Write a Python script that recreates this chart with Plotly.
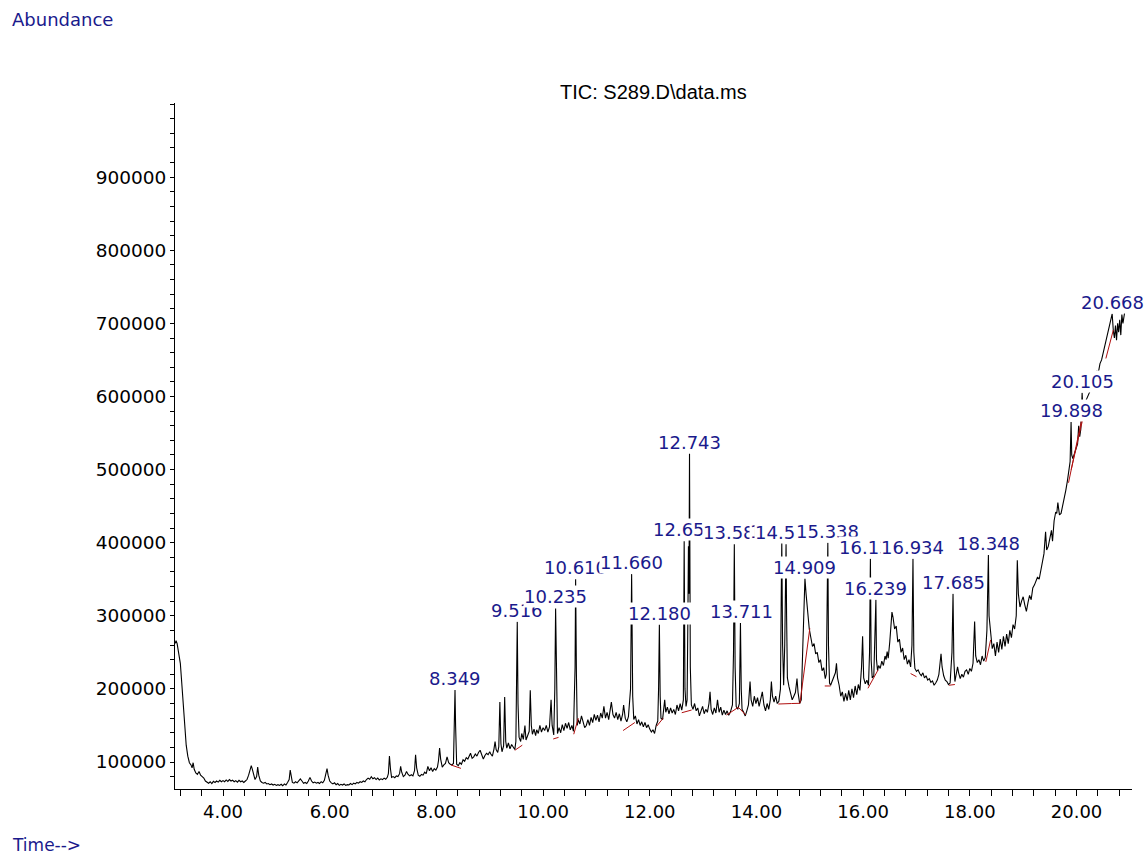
import plotly.graph_objects as go

# ---------------- data ----------------
t_seg1 = [3.10, 3.12, 3.14, 3.17, 3.20, 3.22, 3.25, 3.28, 3.31, 3.34, 3.37, 3.40, 3.42, 3.44, 3.46, 3.49,
          3.52, 3.55, 3.58, 3.61, 3.64, 3.67, 3.70, 3.73, 3.76, 3.79, 3.82, 3.85, 3.88, 3.91, 3.94, 3.97,
          4.00, 4.03, 4.06, 4.09, 4.12, 4.15, 4.18, 4.21, 4.24, 4.27, 4.30, 4.33, 4.36, 4.39, 4.42, 4.45,
          4.48, 4.51, 4.53, 4.55, 4.58, 4.60, 4.63, 4.65, 4.67, 4.70, 4.73, 4.76, 4.79, 4.82, 4.85, 4.88,
          4.91, 4.94, 4.97, 5.00, 5.03, 5.06, 5.09, 5.12, 5.15, 5.18, 5.21, 5.24, 5.26, 5.28, 5.30, 5.33,
          5.36, 5.39, 5.42, 5.45, 5.48, 5.51, 5.54, 5.57, 5.60, 5.63, 5.66, 5.69, 5.72, 5.75, 5.78, 5.81,
          5.84, 5.87, 5.90, 5.93, 5.95, 5.97]
a_seg1 = [262000, 266000, 262000, 250000, 235000, 215000, 180000, 150000, 123000, 108000, 99000, 96000,
          92000, 99000, 90000, 85000, 83000, 87000, 82000, 80000, 78000, 74000, 72000, 71000, 73000, 70500,
          73500, 72000, 74000, 72500, 75000, 73000, 74500, 73000, 75500, 73500, 76000, 74000, 75000, 73000,
          74500, 72500, 75000, 73000, 74000, 72000, 74000, 76000, 82000, 92000, 95000, 90000, 80000, 76000,
          80000, 93000, 82000, 74000, 72000, 71000, 72000, 70000, 70500, 69000, 70000, 68500, 69500, 68000,
          69000, 68000, 69500, 67500, 70000, 68500, 72000, 76000, 89000, 80000, 72000, 71000, 73000, 71500,
          74000, 77000, 74000, 71000, 72000, 70500, 74000, 79000, 74000, 71500, 72500, 71000, 72000, 70500,
          73000, 71500, 75000, 84000, 91000, 82000]

t_seg2 = [6.00, 6.03, 6.06, 6.09, 6.12, 6.15, 6.18, 6.21, 6.24, 6.27, 6.30, 6.33, 6.36, 6.39, 6.42, 6.45,
          6.48, 6.51, 6.54, 6.57, 6.60, 6.63, 6.66, 6.69, 6.72, 6.75, 6.78, 6.81, 6.84, 6.87, 6.90, 6.93,
          6.96, 6.99, 7.02, 7.05, 7.08, 7.10, 7.12, 7.14, 7.16, 7.19, 7.22, 7.25, 7.28, 7.31, 7.33, 7.35,
          7.38, 7.41, 7.44, 7.47, 7.50, 7.53, 7.56, 7.59, 7.61, 7.63, 7.66, 7.69, 7.72, 7.75, 7.78, 7.81,
          7.84, 7.87, 7.90, 7.93, 7.96, 7.99, 8.02, 8.04, 8.06, 8.08, 8.11, 8.14, 8.17, 8.20, 8.23, 8.26,
          8.29, 8.32, 8.34, 8.349, 8.36, 8.38, 8.41, 8.44, 8.47, 8.50, 8.53, 8.56, 8.59, 8.62, 8.64, 8.67,
          8.70, 8.73, 8.76, 8.79, 8.82, 8.85, 8.88, 8.91, 8.94, 8.97]
a_seg2 = [74000, 71500, 70000, 71500, 69000, 70500, 68000, 69500, 68500, 70000, 68000, 69000, 68500, 70500,
          69000, 71000, 70000, 72000, 71000, 73000, 72000, 74000, 73000, 76000, 78000, 76500, 80000, 77000,
          78500, 76000, 78000, 75500, 77000, 76000, 78000, 76500, 79000, 84000, 108000, 90000, 79000, 80000,
          78500, 81000, 80000, 84000, 94000, 86000, 80000, 82000, 87000, 83000, 81000, 82500, 81000, 88000,
          110000, 92000, 82000, 80500, 83000, 82000, 86000, 84000, 94000, 88000, 92000, 87000, 91000, 89000,
          93000, 102000, 119000, 104000, 93000, 96000, 98000, 107000, 99000, 97000, 96000, 98000, 160000,
          198500, 150000, 97000, 95000, 99000, 97000, 103000, 101000, 106000, 104000, 109000, 112000, 105000,
          107000, 111000, 108000, 113000, 116000, 110000, 104000, 109000, 112000, 110000]

t_seg3 = [9.00, 9.02, 9.05, 9.08, 9.10, 9.12, 9.15, 9.17, 9.19, 9.21, 9.23, 9.26, 9.28, 9.30, 9.32, 9.35,
          9.38, 9.41, 9.44, 9.47, 9.49, 9.50, 9.516, 9.53, 9.55, 9.58, 9.60, 9.63, 9.66, 9.68, 9.71, 9.74,
          9.76, 9.78, 9.80, 9.83, 9.86, 9.88, 9.91, 9.94, 9.97, 10.00, 10.03, 10.06, 10.09, 10.12, 10.15,
          10.17, 10.20, 10.22, 10.235, 10.25, 10.27, 10.30, 10.33, 10.36, 10.39, 10.42, 10.45, 10.48, 10.51,
          10.54, 10.57, 10.60, 10.61, 10.625, 10.64, 10.66, 10.69, 10.72, 10.75, 10.78, 10.81, 10.84, 10.87,
          10.90, 10.93, 10.96, 10.99, 11.02, 11.05, 11.08, 11.11, 11.14, 11.17, 11.20, 11.23, 11.26, 11.28,
          11.31, 11.34, 11.37, 11.40, 11.43, 11.46, 11.49, 11.51, 11.54, 11.57, 11.60, 11.64, 11.66, 11.68,
          11.70, 11.73, 11.76, 11.79, 11.82, 11.85, 11.88, 11.91, 11.94, 11.97]
a_seg3 = [114000, 111000, 108000, 118000, 128000, 117000, 113000, 121000, 182000, 125000, 114000, 122000,
          189000, 128000, 119000, 126000, 118000, 124000, 120000, 117000, 128000, 220000, 292000, 180000,
          134000, 128000, 139000, 131000, 150000, 130000, 136000, 142000, 198000, 150000, 138000, 145000,
          136000, 144000, 139000, 150000, 141000, 147000, 143000, 150000, 141000, 148000, 185000, 150000,
          137000, 200000, 310000, 190000, 139000, 147000, 140000, 151000, 143000, 153000, 146000, 154000,
          144000, 150000, 142000, 230000, 350000, 220000, 150000, 158000, 152000, 163000, 155000, 147000,
          150000, 158000, 150000, 161000, 154000, 165000, 157000, 164000, 155000, 167000, 160000, 176000,
          160000, 168000, 158000, 170000, 182000, 165000, 160000, 168000, 158000, 166000, 156000, 165000,
          178000, 160000, 155000, 162000, 200000, 357000, 190000, 158000, 163000, 152000, 158000, 150000,
          155000, 148000, 154000, 147000, 151000]

t_seg4 = [12.00, 12.03, 12.06, 12.09, 12.12, 12.15, 12.165, 12.18, 12.195, 12.21, 12.24, 12.26, 12.28,
          12.30, 12.33, 12.36, 12.39, 12.42, 12.45, 12.48, 12.51, 12.54, 12.57, 12.60, 12.63, 12.645, 12.66,
          12.68, 12.70, 12.715, 12.725, 12.735, 12.745, 12.76, 12.78, 12.81, 12.84, 12.87, 12.90, 12.93,
          12.96, 12.99, 13.02, 13.05, 13.08, 13.11, 13.13, 13.15, 13.18, 13.21, 13.24, 13.27, 13.30, 13.33,
          13.36, 13.39, 13.42, 13.45, 13.48, 13.51, 13.55, 13.57, 13.585, 13.60, 13.62, 13.65, 13.68, 13.70,
          13.715, 13.73, 13.76, 13.79, 13.82, 13.85, 13.88, 13.90, 13.93, 13.96, 13.99, 14.02, 14.05, 14.08,
          14.11, 14.14, 14.17, 14.20, 14.23, 14.26, 14.28, 14.30, 14.33, 14.36, 14.39, 14.42, 14.45, 14.465,
          14.475, 14.49, 14.51, 14.53, 14.555, 14.565, 14.58, 14.61, 14.64, 14.67, 14.70, 14.73, 14.76,
          14.78, 14.81, 14.84, 14.87, 14.909, 14.93, 14.96, 14.99]
a_seg4 = [145000, 141000, 144000, 139000, 150000, 156000, 200000, 288000, 190000, 160000, 158000, 170000,
          185000, 168000, 175000, 166000, 174000, 167000, 172000, 165000, 178000, 170000, 180000, 171000,
          185000, 402000, 200000, 176000, 185000, 300000, 395000, 330000, 522000, 230000, 178000, 172000,
          180000, 170000, 174000, 163000, 170000, 176000, 166000, 172000, 168000, 180000, 196000, 172000,
          165000, 174000, 167000, 185000, 168000, 175000, 164000, 171000, 165000, 170000, 164000, 168000,
          178000, 250000, 398000, 230000, 176000, 172000, 180000, 290000, 200000, 172000, 168000, 163000,
          170000, 178000, 210000, 185000, 176000, 190000, 180000, 188000, 176000, 185000, 196000, 178000,
          170000, 180000, 172000, 185000, 210000, 190000, 182000, 190000, 180000, 183000, 200000, 330000,
          400000, 260000, 205000, 260000, 398000, 300000, 215000, 203000, 192000, 185000, 190000, 195000,
          214000, 195000, 180000, 185000, 260000, 351000, 330000, 300000, 282000]

t_seg5 = [15.02, 15.05, 15.08, 15.11, 15.14, 15.17, 15.20, 15.23, 15.26, 15.29, 15.31, 15.338, 15.35,
          15.37, 15.39, 15.42, 15.45, 15.48, 15.50, 15.52, 15.55, 15.58, 15.61, 15.64, 15.67, 15.70, 15.73,
          15.76, 15.79, 15.82, 15.85, 15.88, 15.91, 15.94, 15.97, 15.99, 16.01, 16.04, 16.07, 16.10, 16.12,
          16.136, 16.15, 16.17, 16.20, 16.215, 16.239, 16.25, 16.27, 16.29, 16.32, 16.35, 16.38, 16.41,
          16.43, 16.45, 16.47, 16.50, 16.52, 16.54, 16.56, 16.59, 16.62, 16.65, 16.68, 16.71, 16.74, 16.77,
          16.80, 16.83, 16.86, 16.89, 16.915, 16.934, 16.95, 16.97, 17.00, 17.03, 17.06, 17.09, 17.12,
          17.15, 17.18, 17.21, 17.24, 17.27, 17.30, 17.33, 17.36, 17.39, 17.42, 17.44, 17.46, 17.48, 17.51,
          17.54, 17.57, 17.60, 17.63, 17.665, 17.685, 17.70, 17.72, 17.74, 17.77, 17.79, 17.82, 17.85,
          17.88, 17.91, 17.94, 17.97]
a_seg5 = [270000, 258000, 262000, 248000, 250000, 236000, 240000, 225000, 229000, 214000, 220000, 400000,
          260000, 208000, 205000, 210000, 215000, 222000, 235000, 215000, 205000, 190000, 196000, 183000,
          194000, 184000, 198000, 185000, 200000, 188000, 204000, 192000, 206000, 198000, 230000, 272000,
          215000, 207000, 212000, 205000, 250000, 378000, 240000, 215000, 218000, 250000, 322000, 240000,
          225000, 232000, 228000, 238000, 232000, 245000, 240000, 251000, 242000, 265000, 290000, 305000,
          298000, 282000, 286000, 264000, 268000, 250000, 256000, 240000, 246000, 234000, 240000, 230000,
          260000, 378000, 250000, 228000, 224000, 226000, 221000, 218000, 222000, 215000, 218000, 212000,
          214000, 209000, 211000, 205000, 208000, 212000, 220000, 235000, 248000, 230000, 218000, 212000,
          210000, 206000, 208000, 250000, 330000, 240000, 210000, 218000, 230000, 222000, 214000, 220000,
          216000, 224000, 226000, 220000]

t_seg6 = [18.00, 18.03, 18.06, 18.09, 18.11, 18.14, 18.17, 18.20, 18.23, 18.26, 18.29, 18.32, 18.348,
          18.36, 18.39, 18.42, 18.45, 18.48, 18.51, 18.54, 18.57, 18.60, 18.63, 18.66, 18.69, 18.72, 18.75,
          18.78, 18.81, 18.84, 18.87, 18.89, 18.91, 18.94, 18.97, 19.00, 19.03, 19.06, 19.09, 19.12, 19.15,
          19.18, 19.21, 19.24, 19.27, 19.30, 19.33, 19.36, 19.39, 19.42, 19.44, 19.47, 19.50, 19.53, 19.55,
          19.58, 19.61, 19.63, 19.65, 19.68, 19.71, 19.74, 19.77, 19.80, 19.83, 19.86, 19.88, 19.898, 19.91,
          19.93, 19.96, 19.99, 20.02, 20.04, 20.06, 20.08, 20.105, 20.12, 20.15, 20.18, 20.21, 20.24, 20.27,
          20.30, 20.33, 20.36, 20.38, 20.41, 20.44, 20.47, 20.50, 20.53, 20.56, 20.60, 20.63, 20.668, 20.69,
          20.71, 20.73, 20.75, 20.77, 20.79, 20.81, 20.83, 20.85, 20.87, 20.90]
a_seg6 = [228000, 224000, 235000, 292000, 245000, 236000, 240000, 233000, 245000, 238000, 243000, 280000,
          383000, 300000, 276000, 255000, 262000, 245000, 264000, 250000, 268000, 254000, 272000, 258000,
          275000, 262000, 280000, 270000, 288000, 282000, 300000, 376000, 330000, 312000, 320000, 326000,
          315000, 306000, 318000, 328000, 322000, 338000, 342000, 348000, 353000, 350000, 362000, 372000,
          385000, 415000, 390000, 395000, 405000, 417000, 402000, 430000, 442000, 440000, 455000, 438000,
          440000, 450000, 462000, 472000, 485000, 500000, 511000, 565000, 520000, 515000, 522000, 530000,
          535000, 560000, 545000, 555000, 605000, 580000, 590000, 595000, 600000, 605000, 610000, 615000,
          620000, 622000, 635000, 633000, 645000, 650000, 660000, 668000, 677000, 690000, 700000, 713000,
          690000, 680000, 697000, 677000, 700000, 688000, 705000, 684000, 712000, 700000, 714000]

# integration baselines (red): start/end retention time and abundance
base_t0 = [8.27, 9.47, 10.19, 10.575, 11.50, 12.13, 12.60, 13.44, 13.66, 14.41, 14.66, 14.815, 15.28,
           16.09, 16.89, 17.61, 18.30, 19.85, 19.90, 20.55]
base_a0 = [96000, 116000, 131500, 138000, 143000, 149000, 167400, 164300, 174800, 179300, 180000, 180300,
           204000, 200800, 221000, 205000, 237000, 482000, 500000, 652000]
base_t1 = [8.46, 9.61, 10.29, 10.66, 11.72, 12.25, 12.785, 13.66, 13.80, 14.66, 14.815, 15.00, 15.39,
           16.28, 17.00, 17.72, 18.39, 20.10, 20.12, 20.69]
base_a1 = [91300, 123000, 133700, 160000, 154000, 159800, 171100, 174800, 164300, 180000, 180300, 282900,
           204000, 226000, 216700, 206000, 267000, 570000, 570000, 691000]

# labelled peaks
peak_labels = ["8.349", "9.516", "10.235", "10.610", "11.660", "12.180", "12.654", "12.743", "13.585",
               "13.711", "14.475", "14.555", "14.909", "15.338", "16.136", "16.239", "16.934", "17.685",
               "18.348", "19.898", "20.105", "20.668"]
peak_top = [198500, 292000, 310000, 350000, 357000, 288000, 402000, 522000, 398000, 290000, 400000,
            398000, 351000, 400000, 378000, 322000, 378000, 330000, 383000, 565000, 605000, 713000]

x_ticks = [4, 6, 8, 10, 12, 14, 16, 18, 20]
x_ticktext = ["4.00", "6.00", "8.00", "10.00", "12.00", "14.00", "16.00", "18.00", "20.00"]
y_ticks = [100000, 200000, 300000, 400000, 500000, 600000, 700000, 800000, 900000]
y_ticktext = ["100000", "200000", "300000", "400000", "500000", "600000", "700000", "800000", "900000"]

# ---------------- figure ----------------
t_all = t_seg1 + t_seg2 + t_seg3 + t_seg4 + t_seg5 + t_seg6
a_all = a_seg1 + a_seg2 + a_seg3 + a_seg4 + a_seg5 + a_seg6

bx, by = [], []
for t0, a0, t1, a1 in zip(base_t0, base_a0, base_t1, base_a1):
    bx += [t0, t1, None]
    by += [a0, a1, None]

NAVY = "#1a1a8c"
fig = go.Figure()
fig.add_trace(go.Scatter(x=t_all, y=a_all, mode="lines",
                         line=dict(color="black", width=1.1), hoverinfo="skip"))
fig.add_trace(go.Scatter(x=bx, y=by, mode="lines",
                         line=dict(color="#b01010", width=1), hoverinfo="skip"))

for lab, top in zip(peak_labels, peak_top):
    fig.add_annotation(x=float(lab), y=top, text=lab, showarrow=False,
                       xanchor="center", yanchor="bottom", bgcolor="white", borderpad=0,
                       font=dict(family="DejaVu Sans", size=18, color=NAVY))

fig.add_annotation(xref="paper", yref="paper", x=0.5, y=1.016, text="TIC: S289.D\\data.ms",
                   showarrow=False, xanchor="center", yanchor="middle",
                   font=dict(family="Liberation Sans", size=20, color="black"))
fig.add_annotation(xref="paper", yref="paper", x=-0.1724, y=1.121, text="Abundance",
                   showarrow=False, xanchor="left", yanchor="middle",
                   font=dict(family="DejaVu Sans", size=18, color=NAVY))
fig.add_annotation(xref="paper", yref="paper", x=-0.1724, y=-0.0816, text="Time-->",
                   showarrow=False, xanchor="left", yanchor="middle",
                   font=dict(family="DejaVu Sans", size=17, color=NAVY))

fig.update_layout(
    width=1148, height=854,
    margin=dict(l=175, r=16, t=103, b=65),
    paper_bgcolor="white", plot_bgcolor="white",
    showlegend=False,
    xaxis=dict(range=[3.10, 21.04], tickvals=x_ticks, ticktext=x_ticktext,
               showgrid=False, zeroline=False, showline=True, linecolor="black", linewidth=1,
               ticks="outside", ticklen=6, tickcolor="black", tickwidth=1,
               tickfont=dict(family="DejaVu Sans", size=18, color="black"),
               minor=dict(dtick=0.4, tick0=0, ticks="outside", ticklen=6, tickcolor="black",
                          showgrid=False)),
    yaxis=dict(range=[63060, 1001500], tickvals=y_ticks, ticktext=y_ticktext,
               showgrid=False, zeroline=False, showline=True, linecolor="black", linewidth=1,
               ticks="outside", ticklen=4, tickcolor="black", tickwidth=1,
               tickfont=dict(family="DejaVu Sans", size=18.5, color="black"),
               minor=dict(dtick=20000, tick0=0, ticks="outside", ticklen=4, tickcolor="black",
                          showgrid=False)),
)

fig.write_html("out.html", config={"displayModeBar": False},
               post_script="document.body.style.margin='0';")
